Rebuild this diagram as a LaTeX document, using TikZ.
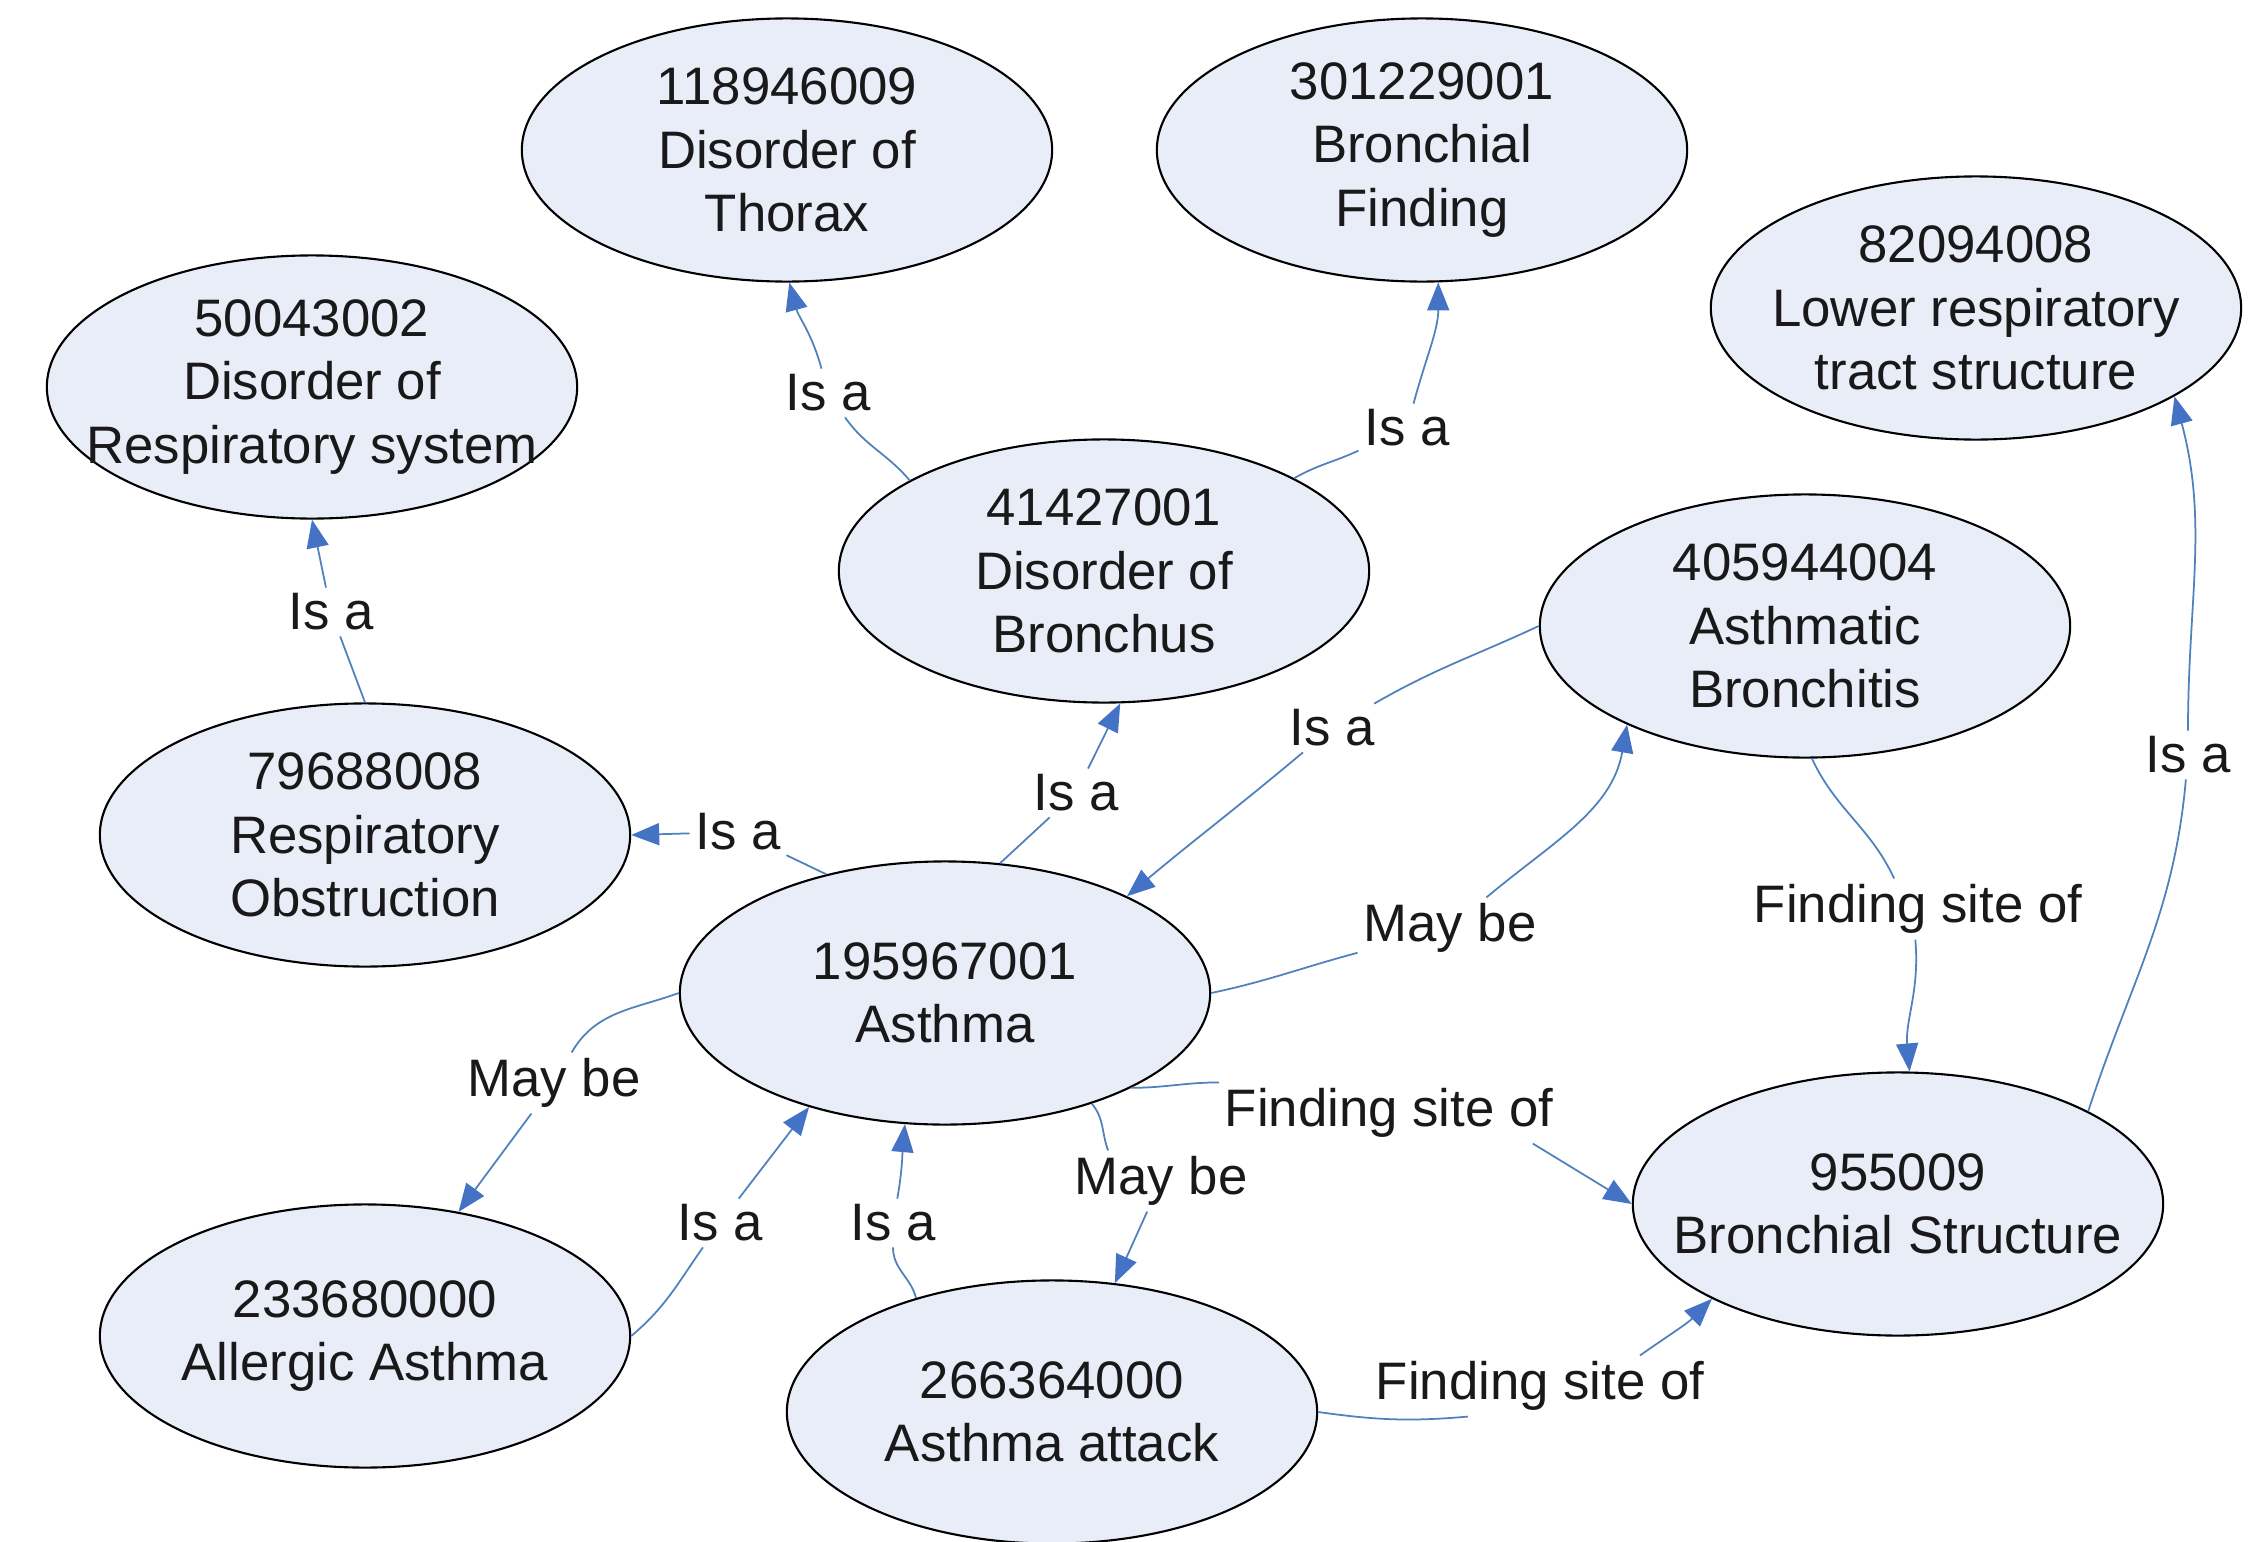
\documentclass[tikz,border=0pt]{standalone}
\usepackage{fontspec}
\setmainfont{Liberation Sans}
\usetikzlibrary{shapes.geometric,arrows.meta}
\definecolor{ellfill}{RGB}{232,237,248}
\definecolor{edgeblue}{RGB}{79,129,189}
\definecolor{tipblue}{RGB}{68,114,196}
\definecolor{txtc}{RGB}{25,25,25}
\begin{document}
\begin{tikzpicture}[x=0.01cm,y=0.01cm,
 ell/.style={ellipse,draw=black,line width=0.6pt,fill=ellfill,minimum width=5.3cm,minimum height=2.63cm,inner sep=0pt},
 etxt/.style={align=center,font=\fontsize{15}{18}\selectfont,text=txtc,inner sep=0pt},
 lbl/.style={font=\fontsize{15}{18}\selectfont,text=txtc,inner sep=1.5pt},
 ln/.style={draw=edgeblue,line width=0.5pt},
 ar/.style={ln,-{Triangle[length=0.28cm,width=0.22cm,color=tipblue]}}]
\fill[white] (0,0) rectangle (2259,-1542);
\useasboundingbox (0,0) rectangle (2259,-1542);

% concept ellipses
\node[ell] (th) at (787,-150) {};
\node[ell] (bf) at (1422,-150) {};
\node[ell] (rs) at (312,-387) {};
\node[ell] (lr) at (1976,-308) {};
\node[ell] (br) at (1104,-571) {};
\node[ell] (ab) at (1805,-626) {};
\node[ell] (ro) at (365,-835) {};
\node[ell] (as) at (945,-993) {};
\node[ell] (bs) at (1898,-1204) {};
\node[ell] (al) at (365,-1336) {};
\node[ell] (at) at (1052,-1412) {};

% concept texts
\node[etxt] (tht) at (th) {118946009\\Disorder of\\Thorax};
\node[etxt] (bft) at (bf) {301229001\\Bronchial\\Finding};
\node[etxt] (rst) at (rs) {50043002\\Disorder of\\Respiratory system};
\node[etxt] (lrt) at (lr) {82094008\\Lower respiratory\\tract structure};
\node[etxt] (brt) at (br) {41427001\\Disorder of\\Bronchus};
\node[etxt] (abt) at (ab) {405944004\\Asthmatic\\Bronchitis};
\node[etxt] (rot) at (ro) {79688008\\Respiratory\\Obstruction};
\node[etxt] (ast) at (as) {195967001\\Asthma};
\node[etxt] (bst) at (bs) {955009\\Bronchial Structure};
\node[etxt] (alt) at (al) {233680000\\Allergic Asthma};
\node[etxt] (att) at (at) {266364000\\Asthma attack};

% relation labels
\node[lbl] (l1) at (331,-612) {Is a};
\node[lbl] (l2) at (828,-393) {Is a};
\node[lbl] (l3) at (1407,-428) {Is a};
\node[lbl] (l4) at (738,-832) {Is a};
\node[lbl] (l5) at (1076,-793) {Is a};
\node[lbl] (l6) at (1332,-728) {Is a};
\node[lbl] (l7) at (554,-1083) {May be};
\node[lbl] (l8) at (720,-1223) {Is a};
\node[lbl] (l9) at (893,-1223) {Is a};
\node[lbl] (l10) at (1161,-1181) {May be};
\node[lbl] (l11) at (1450,-928) {May be};
\node[lbl] (l12) at (1389,-1113) {Finding site of};
\node[lbl] (l13) at (1540,-1386) {Finding site of};
\node[lbl] (l14) at (1918,-909) {Finding site of};
\node[lbl] (l15) at (2188,-755) {Is a};

% connectors
\draw[ln] (ro.north) -- (l1);
\draw[ar] (l1) -- (rs.south);

\draw[ln] (br.155) to[out=130,in=-55] (l2);
\draw[ar] (l2) to[out=105,in=-75] (th.-89);

\draw[ln] (br.26) to[out=30,in=205] (l3);
\draw[ar] (l3) to[out=75,in=-90] (bf.-83);

\draw[ln] (as.135) -- (l4);
\draw[ar] (l4) -- (ro.east);

\draw[ln] (as.67) -- (l5);
\draw[ar] (l5) -- (br.-83);

\draw[ln] (ab.180) to[out=205,in=30] (l6);
\draw[ar] (l6) to[out=220,in=40] (as.28);

\draw[ln] (as.180) to[out=200,in=60] (l7);
\draw[ar] (l7) -- (al.53);

\draw[ln] (al.0) to[out=40,in=235] (l8);
\draw[ar] (l8) -- (as.220);

\draw[ln] (at.140) to[out=105,in=-90] (l9);
\draw[ar] (l9) to[out=80,in=-95] (as.-107);

\draw[ln] (as.-37) to[out=-50,in=110] (l10.150);
\draw[ar] (l10) -- (at.64);

\draw[ln] (as.0) to[out=12,in=195] (l11);
\draw[ar] (l11.40) to[out=40,in=-100] (ab.209);

\draw[ln] (as.-27) to[out=0,in=180] (l12.north west);
\draw[ar] (l12.-12) -- (bs.west);

\draw[ln] (at.0) to[out=-8,in=185] (l13.203);
\draw[ar] (l13.17) to[out=35,in=225] (bs.207);

\draw[ln] (ab.-87) to[out=-65,in=115] (l14.128);
\draw[ar] (l14.-95) to[out=-85,in=95] (bs.85);

\draw[ln] (bs.26) to[out=72,in=-95] (l15);
\draw[ar] (l15) to[out=90,in=-75] (lr.-24);
\end{tikzpicture}
\end{document}
